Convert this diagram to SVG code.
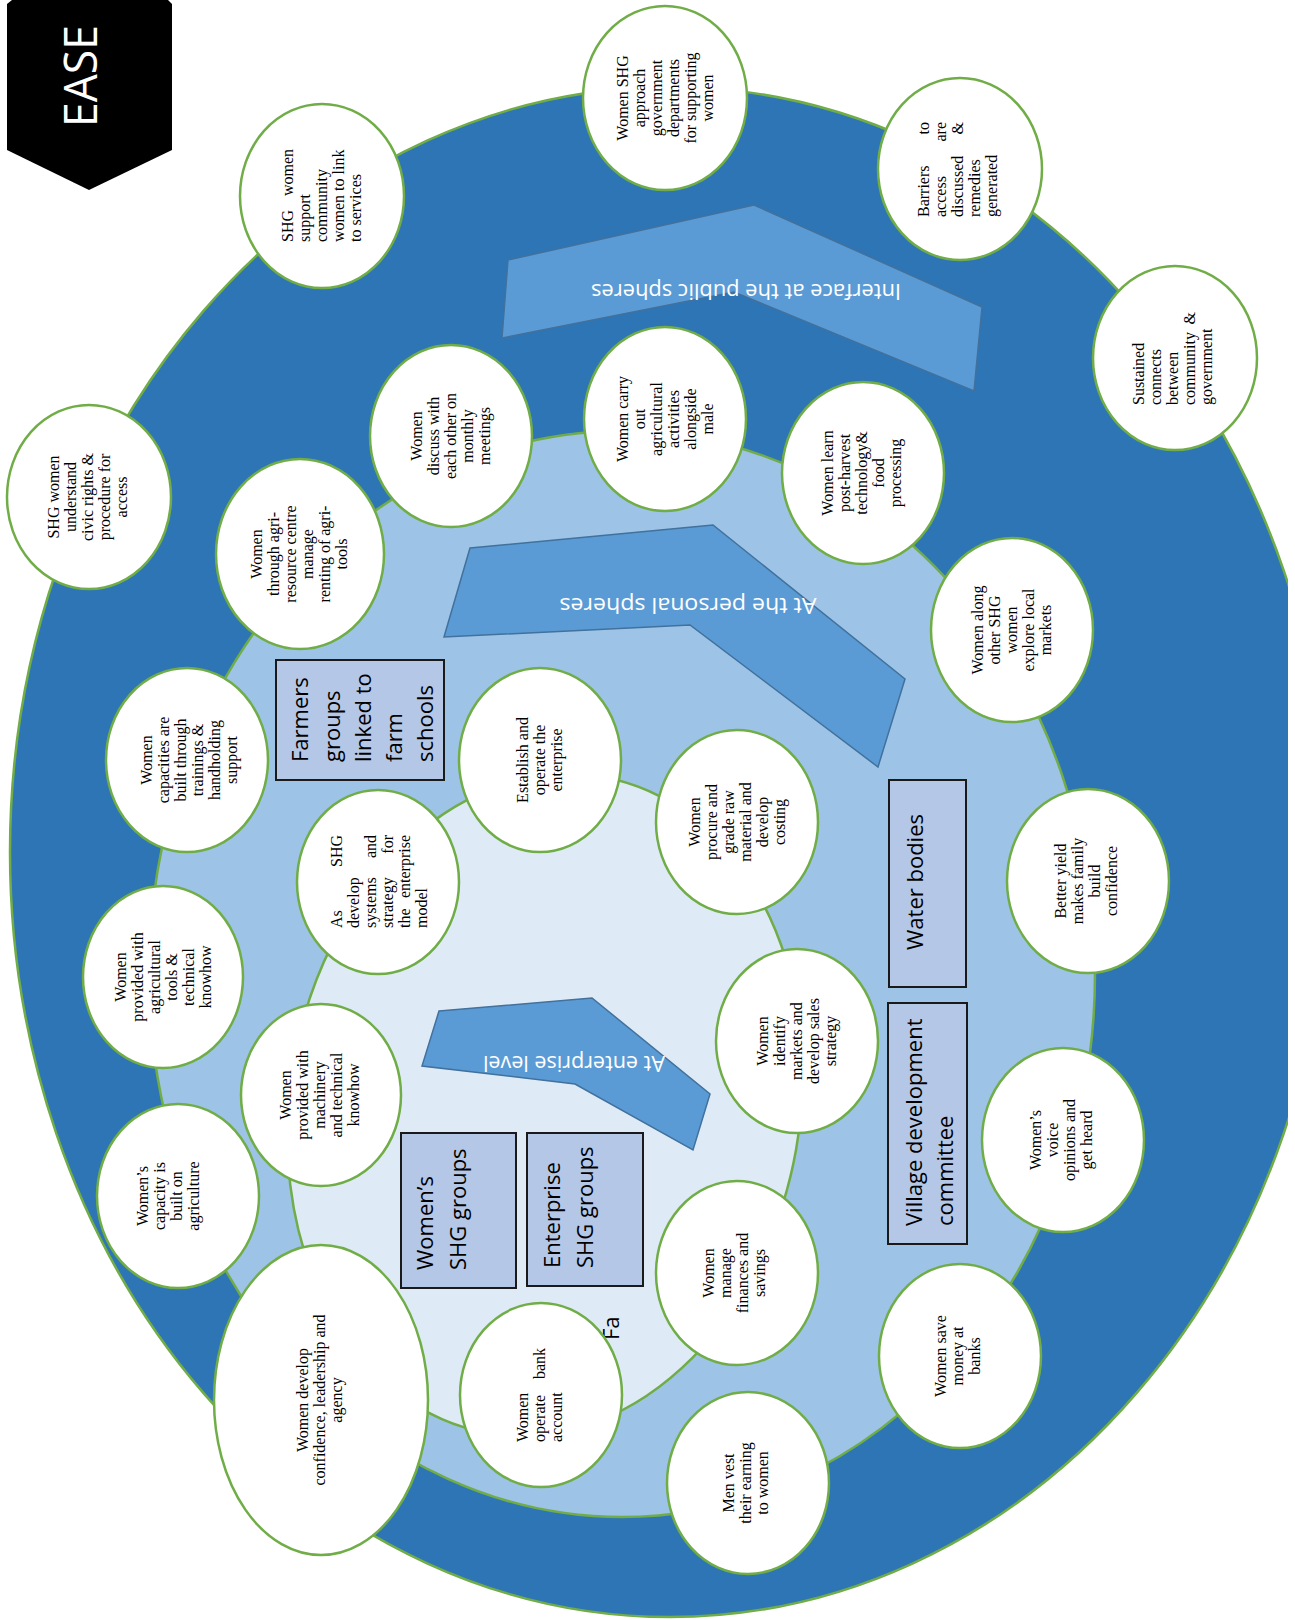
<svg xmlns="http://www.w3.org/2000/svg" width="1295" height="1620" viewBox="0 0 1295 1620">
<defs>
<clipPath id="pageclip"><rect x="0" y="0" width="1288" height="1620"/></clipPath>
<style>
.ring{stroke:#70AD47;stroke-width:2.5}
.arrow{fill:#5B9BD5;stroke:#41719C;stroke-width:1.5}
.box{fill:#B4C7E7;stroke:#1A1A1A;stroke-width:2}
.node{fill:#FFFFFF;stroke:#70AD47;stroke-width:2.5}
.ct{font-family:"Liberation Serif","Times New Roman",serif;font-size:16px;fill:#000;text-anchor:middle}
.cl{font-family:"Liberation Serif","Times New Roman",serif;font-size:16px;fill:#000;text-anchor:start}
.e{text-anchor:end}
.bt{font-family:"Open Sans","Noto Sans",sans-serif;font-size:22px;fill:#000}
.at{font-family:"Open Sans","Noto Sans",sans-serif;font-size:21px;fill:#FFFFFF;text-anchor:middle}
</style>
</defs>
<rect x="0" y="0" width="1295" height="1620" fill="#FFFFFF"/>

<g id="background">
<ellipse class="ring" cx="670" cy="852" rx="660" ry="765" fill="#2E75B6" clip-path="url(#pageclip)"/>
<ellipse class="ring" cx="622" cy="974" rx="473" ry="543" fill="#9DC3E6"/>
<ellipse class="ring" cx="545" cy="1105" rx="255" ry="333" fill="#DEEBF7" transform="rotate(10 545 1105)"/>
</g>

<g id="title">
<polygon points="7,4 12,0 168,0 172,4 172,150 89,190 7,150" fill="#000000"/>
<text transform="translate(97,127) rotate(-90)" font-family="Open Sans, Noto Sans, sans-serif" font-size="46" fill="#FFFFFF" textLength="102" lengthAdjust="spacingAndGlyphs">EASE</text>
</g>

<g id="arrow-public">
<polygon class="arrow" points="508,260 754,205 982,307 974,391 734,292 502,338"/>
<text class="at" transform="translate(746,284) rotate(180)" textLength="310" lengthAdjust="spacingAndGlyphs">Interface at the public spheres</text>
</g>
<g id="arrow-personal">
<polygon class="arrow" points="470,548 713,525 905,679 878,767 690,625 444,637"/>
<text class="at" transform="translate(688,598) rotate(180)" textLength="257" lengthAdjust="spacingAndGlyphs">At the personal spheres</text>
</g>
<g id="arrow-enterprise">
<polygon class="arrow" points="439,1011 592,998 710,1094 693,1150 575,1084 422,1066"/>
<text class="at" transform="translate(574,1056) rotate(180)" textLength="182" lengthAdjust="spacingAndGlyphs">At enterprise level</text>
</g>

<g id="box-farmers">
<rect class="box" x="276" y="660" width="168" height="120"/>
<text class="bt" transform="translate(276,762) rotate(-90)"><tspan x="0" y="32">Farmers</tspan><tspan x="0" y="64">groups</tspan><tspan x="0" y="95">linked to</tspan><tspan x="0" y="126">farm</tspan><tspan x="0" y="157">schools</tspan></text>
</g>
<g id="box-water">
<rect class="box" x="889" y="780" width="77" height="207"/>
<text class="bt" transform="translate(889,950) rotate(-90)"><tspan x="0" y="34">Water bodies</tspan></text>
</g>
<g id="box-village">
<rect class="box" x="888" y="1003" width="79" height="241"/>
<text class="bt" transform="translate(888,1226) rotate(-90)"><tspan x="0" y="34">Village development</tspan><tspan x="0" y="65">committee</tspan></text>
</g>
<g id="box-womens-shg">
<rect class="box" x="401" y="1133" width="115" height="155"/>
<text class="bt" transform="translate(401,1270) rotate(-90)"><tspan x="0" y="32">Women’s</tspan><tspan x="0" y="65">SHG groups</tspan></text>
</g>
<g id="box-enterprise-shg">
<rect class="box" x="527" y="1133" width="116" height="153"/>
<text class="bt" transform="translate(527,1268) rotate(-90)"><tspan x="0" y="33">Enterprise</tspan><tspan x="0" y="66">SHG groups</tspan></text>
</g>
<g id="label-fa">
<text class="bt" transform="translate(619,1340) rotate(-90)">Fa</text>
</g>

<g id="connectors"></g>

<g id="n1">
<ellipse class="node" cx="322" cy="196" rx="82" ry="92"/>
<text class="cl" transform="translate(322,196) rotate(-90)"><tspan x="-46" y="-29">SHG</tspan><tspan class="e" x="47" y="-29">women</tspan><tspan x="-46" y="-12">support</tspan><tspan x="-46" y="5">community</tspan><tspan x="-46" y="22">women to link</tspan><tspan x="-46" y="39">to services</tspan></text>
</g>
<g id="n2">
<ellipse class="node" cx="665" cy="98" rx="82" ry="92"/>
<text class="ct" transform="translate(665,98) rotate(-90)"><tspan x="0" y="-37.5">Women SHG</tspan><tspan x="0" y="-20.5">approach</tspan><tspan x="0" y="-3.5">government</tspan><tspan x="0" y="13.5">departments</tspan><tspan x="0" y="30.5">for supporting</tspan><tspan x="0" y="47.5">women</tspan></text>
</g>
<g id="n3">
<ellipse class="node" cx="960" cy="169" rx="82" ry="91"/>
<text class="cl" transform="translate(960,169) rotate(-90)"><tspan x="-48" y="-31">Barriers</tspan><tspan class="e" x="47" y="-31">to</tspan><tspan x="-48" y="-14">access</tspan><tspan class="e" x="47" y="-14">are</tspan><tspan x="-48" y="3">discussed</tspan><tspan class="e" x="47" y="3">&amp;</tspan><tspan x="-48" y="20">remedies</tspan><tspan x="-48" y="37">generated</tspan></text>
</g>
<g id="n4">
<ellipse class="node" cx="1175" cy="358" rx="82" ry="92"/>
<text class="cl" transform="translate(1175,358) rotate(-90)"><tspan x="-47" y="-31">Sustained</tspan><tspan x="-47" y="-14">connects</tspan><tspan x="-47" y="3">between</tspan><tspan x="-47" y="20">community</tspan><tspan class="e" x="46" y="20">&amp;</tspan><tspan x="-47" y="37">government</tspan></text>
</g>
<g id="n5">
<ellipse class="node" cx="89" cy="497" rx="82" ry="92"/>
<text class="ct" transform="translate(89,497) rotate(-90)"><tspan x="0" y="-30">SHG women</tspan><tspan x="0" y="-13">understand</tspan><tspan x="0" y="4">civic rights &amp;</tspan><tspan x="0" y="21">procedure for</tspan><tspan x="0" y="38">access</tspan></text>
</g>
<g id="n6">
<ellipse class="node" cx="300" cy="554" rx="84" ry="95"/>
<text class="ct" transform="translate(300,554) rotate(-90)"><tspan x="0" y="-38.5">Women</tspan><tspan x="0" y="-21.5">through agri-</tspan><tspan x="0" y="-4.5">resource centre</tspan><tspan x="0" y="12.5">manage</tspan><tspan x="0" y="29.5">renting of agri-</tspan><tspan x="0" y="46.5">tools</tspan></text>
</g>
<g id="n7">
<ellipse class="node" cx="451" cy="436" rx="81" ry="91"/>
<text class="ct" transform="translate(451,436) rotate(-90)"><tspan x="0" y="-29">Women</tspan><tspan x="0" y="-12">discuss with</tspan><tspan x="0" y="5">each other on</tspan><tspan x="0" y="22">monthly</tspan><tspan x="0" y="39">meetings</tspan></text>
</g>
<g id="n8">
<ellipse class="node" cx="665" cy="419" rx="81" ry="92"/>
<text class="ct" transform="translate(665,419) rotate(-90)"><tspan x="0" y="-37.5">Women carry</tspan><tspan x="0" y="-20.5">out</tspan><tspan x="0" y="-3.5">agricultural</tspan><tspan x="0" y="13.5">activities</tspan><tspan x="0" y="30.5">alongside</tspan><tspan x="0" y="47.5">male</tspan></text>
</g>
<g id="n9">
<ellipse class="node" cx="863" cy="473" rx="81" ry="91"/>
<text class="ct" transform="translate(863,473) rotate(-90)"><tspan x="0" y="-30">Women learn</tspan><tspan x="0" y="-13">post-harvest</tspan><tspan x="0" y="4">technology&amp;</tspan><tspan x="0" y="21">food</tspan><tspan x="0" y="38">processing</tspan></text>
</g>
<g id="n10">
<ellipse class="node" cx="1012" cy="630" rx="81" ry="92"/>
<text class="ct" transform="translate(1012,630) rotate(-90)"><tspan x="0" y="-29">Women along</tspan><tspan x="0" y="-12">other SHG</tspan><tspan x="0" y="5">women</tspan><tspan x="0" y="22">explore local</tspan><tspan x="0" y="39">markets</tspan></text>
</g>
<g id="n11">
<ellipse class="node" cx="1088" cy="881" rx="81" ry="92"/>
<text class="ct" transform="translate(1088,881) rotate(-90)"><tspan x="0" y="-22.5">Better yield</tspan><tspan x="0" y="-5.5">makes family</tspan><tspan x="0" y="11.5">build</tspan><tspan x="0" y="28.5">confidence</tspan></text>
</g>
<g id="n12">
<ellipse class="node" cx="187" cy="760" rx="81" ry="92"/>
<text class="ct" transform="translate(187,760) rotate(-90)"><tspan x="0" y="-35.5">Women</tspan><tspan x="0" y="-18.5">capacities are</tspan><tspan x="0" y="-1.5">built through</tspan><tspan x="0" y="15.5">trainings &amp;</tspan><tspan x="0" y="32.5">handholding</tspan><tspan x="0" y="49.5">support</tspan></text>
</g>
<g id="n13">
<ellipse class="node" cx="378" cy="882" rx="81" ry="92"/>
<text class="cl" transform="translate(378,882) rotate(-90)"><tspan x="-46" y="-36.5">As</tspan><tspan class="e" x="47" y="-36.5">SHG</tspan><tspan x="-46" y="-19.5">develop</tspan><tspan x="-46" y="-2.5">systems</tspan><tspan class="e" x="47" y="-2.5">and</tspan><tspan x="-46" y="14.5">strategy</tspan><tspan class="e" x="47" y="14.5">for</tspan><tspan x="-46" y="31.5">the</tspan><tspan class="e" x="47" y="31.5">enterprise</tspan><tspan x="-46" y="48.5">model</tspan></text>
</g>
<g id="n14">
<ellipse class="node" cx="163" cy="977" rx="80" ry="91"/>
<text class="ct" transform="translate(163,977) rotate(-90)"><tspan x="0" y="-37.5">Women</tspan><tspan x="0" y="-20.5">provided with</tspan><tspan x="0" y="-3.5">agricultural</tspan><tspan x="0" y="13.5">tools &amp;</tspan><tspan x="0" y="30.5">technical</tspan><tspan x="0" y="47.5">knowhow</tspan></text>
</g>
<g id="n15">
<ellipse class="node" cx="540" cy="760" rx="81" ry="92"/>
<text class="ct" transform="translate(540,760) rotate(-90)"><tspan x="0" y="-12">Establish and</tspan><tspan x="0" y="5">operate the</tspan><tspan x="0" y="22">enterprise</tspan></text>
</g>
<g id="n16">
<ellipse class="node" cx="737" cy="822" rx="81" ry="92"/>
<text class="ct" transform="translate(737,822) rotate(-90)"><tspan x="0" y="-37.5">Women</tspan><tspan x="0" y="-20.5">procure and</tspan><tspan x="0" y="-3.5">grade raw</tspan><tspan x="0" y="13.5">material and</tspan><tspan x="0" y="30.5">develop</tspan><tspan x="0" y="47.5">costing</tspan></text>
</g>
<g id="n17">
<ellipse class="node" cx="797" cy="1041" rx="81" ry="92"/>
<text class="ct" transform="translate(797,1041) rotate(-90)"><tspan x="0" y="-29">Women</tspan><tspan x="0" y="-12">identify</tspan><tspan x="0" y="5">markets and</tspan><tspan x="0" y="22">develop sales</tspan><tspan x="0" y="39">strategy</tspan></text>
</g>
<g id="n18">
<ellipse class="node" cx="321" cy="1095" rx="80" ry="91"/>
<text class="ct" transform="translate(321,1095) rotate(-90)"><tspan x="0" y="-30">Women</tspan><tspan x="0" y="-13">provided with</tspan><tspan x="0" y="4">machinery</tspan><tspan x="0" y="21">and technical</tspan><tspan x="0" y="38">knowhow</tspan></text>
</g>
<g id="n19">
<ellipse class="node" cx="178" cy="1196" rx="81" ry="92"/>
<text class="ct" transform="translate(178,1196) rotate(-90)"><tspan x="0" y="-30.5">Women’s</tspan><tspan x="0" y="-13.5">capacity is</tspan><tspan x="0" y="3.5">built on</tspan><tspan x="0" y="20.5">agriculture</tspan></text>
</g>
<g id="n20">
<ellipse class="node" cx="321" cy="1400" rx="107" ry="155"/>
<text class="ct" transform="translate(321,1400) rotate(-90)"><tspan x="0" y="-13">Women develop</tspan><tspan x="0" y="4">confidence, leadership and</tspan><tspan x="0" y="21">agency</tspan></text>
</g>
<g id="n21">
<ellipse class="node" cx="541" cy="1395" rx="81" ry="92"/>
<text class="cl" transform="translate(541,1395) rotate(-90)"><tspan x="-47" y="-13">Women</tspan><tspan x="-47" y="4">operate</tspan><tspan class="e" x="47" y="4">bank</tspan><tspan x="-47" y="21">account</tspan></text>
</g>
<g id="n22">
<ellipse class="node" cx="737" cy="1273" rx="81" ry="92"/>
<text class="ct" transform="translate(737,1273) rotate(-90)"><tspan x="0" y="-23.5">Women</tspan><tspan x="0" y="-6.5">manage</tspan><tspan x="0" y="10.5">finances and</tspan><tspan x="0" y="27.5">savings</tspan></text>
</g>
<g id="n23">
<ellipse class="node" cx="748" cy="1483" rx="81" ry="91"/>
<text class="ct" transform="translate(748,1483) rotate(-90)"><tspan x="0" y="-14">Men vest</tspan><tspan x="0" y="3">their earning</tspan><tspan x="0" y="20">to women</tspan></text>
</g>
<g id="n24">
<ellipse class="node" cx="1063" cy="1140" rx="81" ry="92"/>
<text class="ct" transform="translate(1063,1140) rotate(-90)"><tspan x="0" y="-22.5">Women’s</tspan><tspan x="0" y="-5.5">voice</tspan><tspan x="0" y="11.5">opinions and</tspan><tspan x="0" y="28.5">get heard</tspan></text>
</g>
<g id="n25">
<ellipse class="node" cx="960" cy="1356" rx="81" ry="92"/>
<text class="ct" transform="translate(960,1356) rotate(-90)"><tspan x="0" y="-14">Women save</tspan><tspan x="0" y="3">money at</tspan><tspan x="0" y="20">banks</tspan></text>
</g>
</svg>
